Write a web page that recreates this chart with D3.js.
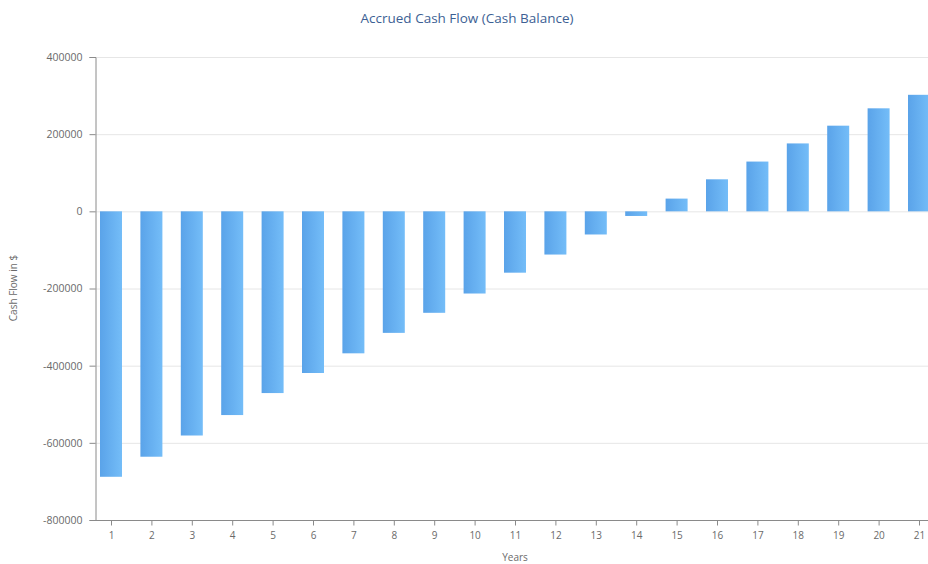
<!DOCTYPE html>
<html>
<head>
<meta charset="utf-8">
<script src="https://cdn.jsdelivr.net/npm/d3@7"></script>
<style>
  html, body { margin: 0; padding: 0; background: #fff; }
  svg { display: block; font-family: "Open Sans", "Noto Sans", sans-serif; }
</style>
</head>
<body>
<svg id="chart" width="928" height="564"></svg>
<script>
// Accrued cash balance per year
const years = [1, 2, 3, 4, 5, 6, 7, 8, 9, 10, 11, 12, 13, 14, 15, 16, 17, 18, 19, 20, 21];
const cashBalance = [-688000, -636000, -581000, -528000, -471000, -419000, -368000, -315000,
  -263000, -213000, -159000, -112000, -60000, -12000, 33000, 83000, 129000, 176000, 222000, 267000, 302000];
const yTicks = [400000, 200000, 0, -200000, -400000, -600000, -800000];

const svg = d3.select("#chart");
const plotLeft = 95, plotTop = 57, plotBottom = 520, plotRight = 928;

const x = d3.scaleLinear().domain([1, 21]).range([111, 919]);
const y = d3.scaleLinear().domain([-800000, 400000]).range([plotBottom, plotTop]);
const barW = 22;

// gradient for the bars
const defs = svg.append("defs");
const grad = defs.append("linearGradient").attr("id", "barGrad")
  .attr("x1", "0%").attr("x2", "100%").attr("y1", "0%").attr("y2", "0%");
grad.append("stop").attr("offset", "0%").attr("stop-color", "#5aa3e9");
grad.append("stop").attr("offset", "100%").attr("stop-color", "#74bdf8");

// title
svg.append("text")
  .attr("x", 467).attr("y", 23)
  .attr("text-anchor", "middle")
  .attr("font-size", 13.5)
  .attr("fill", "#3d5f94")
  .text("Accrued Cash Flow (Cash Balance)");

// horizontal grid
svg.append("g").selectAll("line").data(yTicks).join("line")
  .attr("x1", plotLeft).attr("x2", plotRight)
  .attr("y1", d => y(d) + 0.5).attr("y2", d => y(d) + 0.5)
  .attr("stroke", "#e6e6e6").attr("stroke-width", 1);

// bars
svg.append("g").selectAll("rect").data(years).join("rect")
  .attr("x", (d) => x(d) - barW / 2)
  .attr("width", barW)
  .attr("y", (d, i) => y(Math.max(0, cashBalance[i])))
  .attr("height", (d, i) => Math.abs(y(cashBalance[i]) - y(0)))
  .attr("fill", "url(#barGrad)");

// y axis (plain hyphen for negatives)
const yAxis = d3.axisLeft(y).tickValues(yTicks).tickSize(6).tickPadding(7).tickFormat(d => String(d));
const gy = svg.append("g").attr("transform", `translate(${plotLeft + 0.5},0)`).call(yAxis);
gy.select(".domain").attr("stroke", "#8a8a8a");
gy.selectAll(".tick line").attr("stroke", "#8a8a8a");
gy.selectAll(".tick text").attr("fill", "#6a6a6a").attr("font-size", 10.5)
  .attr("font-family", "Open Sans, sans-serif");

// x axis
const xAxis = d3.axisBottom(x).tickValues(years).tickSize(5).tickPadding(6).tickFormat(d => String(d));
const gx = svg.append("g").attr("transform", `translate(0,${plotBottom + 0.5})`).call(xAxis);
gx.select(".domain").attr("d", `M${plotLeft},0H${plotRight}`).attr("stroke", "#8a8a8a");
gx.selectAll(".tick line").attr("stroke", "#8a8a8a");
gx.selectAll(".tick text").attr("fill", "#6a6a6a").attr("font-size", 10)
  .attr("font-family", "Open Sans, sans-serif");

// axis titles
svg.append("text")
  .attr("x", 515).attr("y", 561)
  .attr("text-anchor", "middle")
  .attr("font-size", 10).attr("fill", "#6a6a6a")
  .text("Years");

svg.append("text")
  .attr("transform", "translate(17,288) rotate(-90)")
  .attr("text-anchor", "middle")
  .attr("font-size", 10).attr("fill", "#6a6a6a")
  .text("Cash Flow in $");
</script>
</body>
</html>
